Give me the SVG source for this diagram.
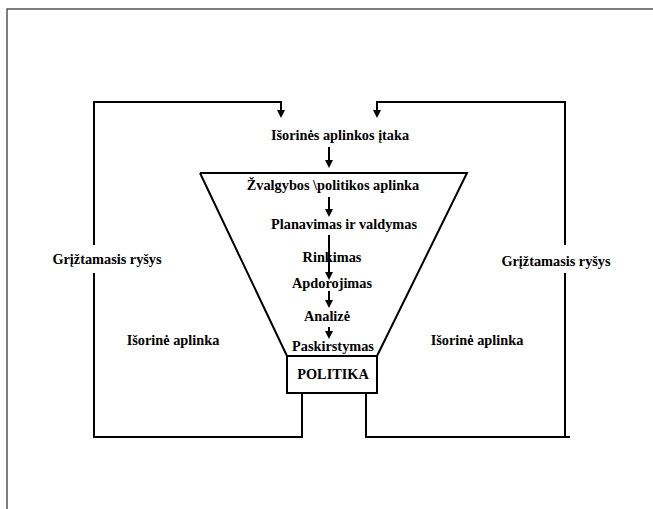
<svg xmlns="http://www.w3.org/2000/svg" width="653" height="509" viewBox="0 0 653 509">
<style>
text{font-family:"Liberation Serif","Times New Roman",serif;font-weight:bold;font-size:14.3px;fill:#000}
.c{text-anchor:middle}
.ln{fill:none;stroke:#000;stroke-width:2}
.frame{fill:none;stroke:#555;stroke-width:1.5}
</style>
<rect width="653" height="509" fill="#fff"/>
<path class="frame" d="M7,509 V9 H653"/>
<g id="connectors">
<path class="ln" d="M302,393 V437 H94 V273"/>
<path class="ln" d="M94,245 V102 H281 V110"/>
<path class="ln" d="M366,393 V437 H570"/>
<path class="ln" d="M565,437 V273"/>
<path class="ln" d="M565,245 V102 H377 V110"/>
<path d="M277,110 H285 L281,118 Z"/>
<path d="M373,110 H381 L377,118 Z"/>
<path class="ln" d="M329,147 V160"/><path d="M325,160 H333 L329,168 Z"/>
<path class="ln" d="M329,197 V209"/><path d="M325,209 H333 L329,217 Z"/>
<path class="ln" d="M329,235 V272"/><path d="M325,272 H333 L329,280 Z"/>
<path class="ln" d="M329,291 V300"/><path d="M325,300 H333 L329,308 Z"/>
<path class="ln" d="M329,327 V331"/><path d="M325,331 H333 L329,339 Z"/>
</g>
<g id="funnel">
<path class="ln" d="M200,173 H467 L377,356 M287,356 L200,173"/>
</g>
<g id="influence"><text class="c" x="340" y="140">Išorinės aplinkos įtaka</text></g>
<g id="intel"><text class="c" x="333" y="190">Žvalgybos \politikos aplinka</text></g>
<g id="planning"><text class="c" x="344" y="229">Planavimas ir valdymas</text></g>
<g id="collection"><text class="c" x="332" y="262">Rinkimas</text></g>
<g id="processing"><text class="c" x="332" y="288">Apdorojimas</text></g>
<g id="analysis"><text class="c" x="327" y="321">Analizė</text></g>
<g id="dissemination"><text class="c" x="333" y="351">Paskirstymas</text></g>
<g id="politika">
<rect x="287" y="356" width="90" height="37" fill="#fff" stroke="#000" stroke-width="2"/>
<text class="c" x="333" y="379">POLITIKA</text>
</g>
<g id="feedback-left"><text class="c" x="107" y="264">Grįžtamasis ryšys</text></g>
<g id="feedback-right"><text class="c" x="556" y="266">Grįžtamasis ryšys</text></g>
<g id="env-left"><text class="c" x="173" y="345">Išorinė aplinka</text></g>
<g id="env-right"><text class="c" x="477" y="345">Išorinė aplinka</text></g>
</svg>
